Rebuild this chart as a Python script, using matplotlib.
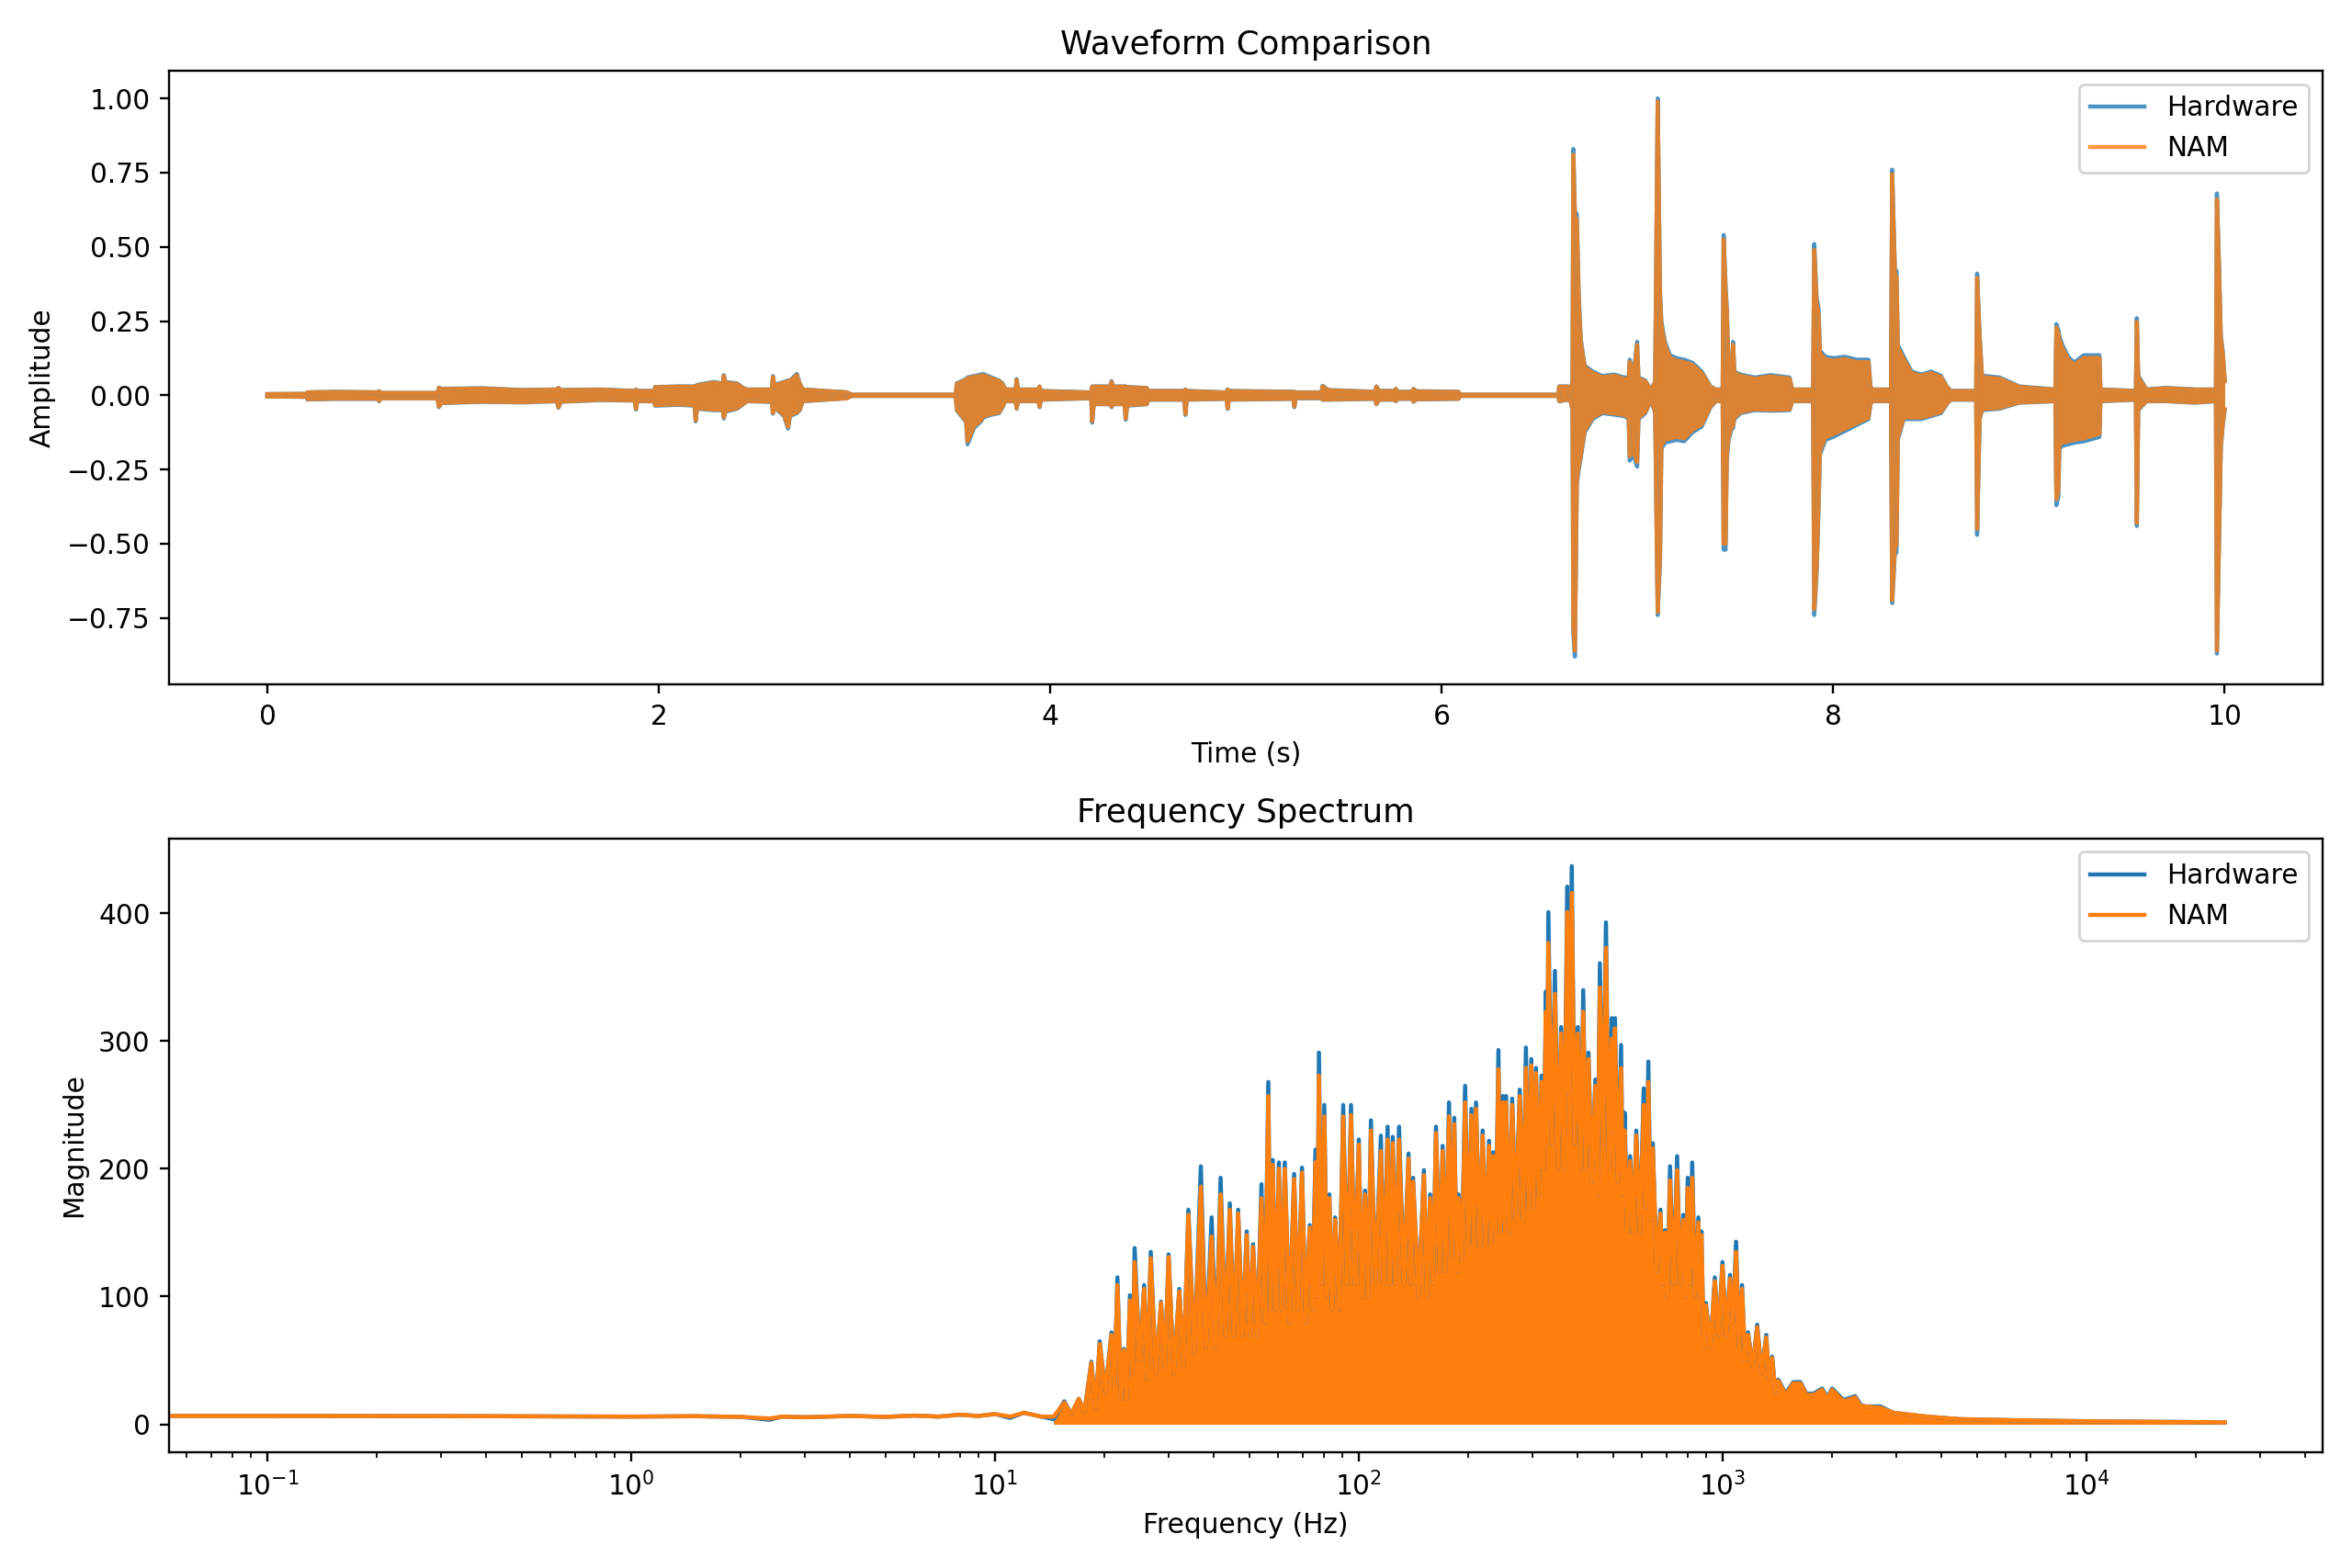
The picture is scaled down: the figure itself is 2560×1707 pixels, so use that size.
import numpy as np
import matplotlib.pyplot as plt
from matplotlib.colors import to_rgb
from matplotlib.lines import Line2D

# ---- waveform envelope, seconds / amplitude ----
wave_t = [0.000, 0.200, 0.205, 0.350, 0.565, 0.571, 0.580, 0.870, 0.876, 0.890,
          1.100, 1.300, 1.480, 1.487, 1.500, 1.700, 1.878, 1.883, 1.890, 1.975,
          1.981, 2.100, 2.183, 2.188, 2.195, 2.280, 2.327, 2.332, 2.340, 2.400,
          2.430, 2.450, 2.578, 2.583, 2.590, 2.640, 2.660, 2.670, 2.705, 2.720,
          2.735, 2.960, 2.985, 3.517, 3.522, 3.570, 3.577, 3.610, 3.648, 3.657,
          3.700, 3.738, 3.756, 3.770, 3.823, 3.828, 3.835, 3.940, 3.945, 3.952,
          4.100, 4.209, 4.214, 4.222, 4.308, 4.313, 4.320, 4.380, 4.385, 4.393,
          4.493, 4.500, 4.685, 4.690, 4.697, 4.900, 4.906, 4.912, 5.242, 5.247,
          5.253, 5.386, 5.391, 5.420, 5.660, 5.666, 5.680, 5.760, 5.765, 5.775,
          5.850, 5.855, 5.870, 6.085, 6.095, 6.595, 6.600, 6.645, 6.655, 6.668,
          6.672, 6.680, 6.690, 6.700, 6.710, 6.730, 6.771, 6.820, 6.880, 6.933,
          6.955, 6.960, 6.980, 6.998, 7.005, 7.040, 7.067, 7.090, 7.103, 7.115,
          7.122, 7.140, 7.166, 7.200, 7.238, 7.280, 7.328, 7.373, 7.400, 7.435,
          7.440, 7.450, 7.456, 7.465, 7.482, 7.488, 7.495, 7.526, 7.600, 7.680,
          7.777, 7.790, 7.897, 7.903, 7.915, 7.925, 7.932, 7.960, 8.000, 8.060,
          8.120, 8.180, 8.190, 8.200, 8.295, 8.301, 8.315, 8.323, 8.330, 8.360,
          8.400, 8.450, 8.500, 8.550, 8.580, 8.600, 8.730, 8.735, 8.748, 8.760,
          8.850, 8.950, 9.135, 9.140, 9.150, 9.155, 9.170, 9.200, 9.230, 9.280,
          9.360, 9.365, 9.546, 9.551, 9.558, 9.600, 9.700, 9.850, 9.955, 9.960,
          9.971, 9.980, 9.990, 10.000]
hw_upper = [0.004, 0.005, 0.010, 0.012, 0.010, 0.014, 0.008, 0.008, 0.026, 0.022,
            0.024, 0.018, 0.020, 0.025, 0.018, 0.020, 0.015, 0.020, 0.015, 0.015,
            0.028, 0.030, 0.030, 0.030, 0.035, 0.045, 0.040, 0.068, 0.045, 0.040,
            0.025, 0.020, 0.020, 0.065, 0.035, 0.045, 0.050, 0.050, 0.072, 0.040,
            0.020, 0.010, 0.002, 0.002, 0.040, 0.055, 0.060, 0.065, 0.070, 0.072,
            0.060, 0.050, 0.040, 0.020, 0.020, 0.055, 0.020, 0.020, 0.030, 0.015,
            0.012, 0.010, 0.030, 0.030, 0.030, 0.048, 0.030, 0.030, 0.030, 0.028,
            0.025, 0.015, 0.015, 0.020, 0.015, 0.010, 0.020, 0.015, 0.012, 0.012,
            0.010, 0.010, 0.032, 0.018, 0.012, 0.030, 0.015, 0.015, 0.022, 0.012,
            0.012, 0.022, 0.014, 0.012, 0.002, 0.002, 0.030, 0.030, 0.010, 0.050,
            0.830, 0.620, 0.610, 0.330, 0.190, 0.100, 0.080, 0.065, 0.070, 0.060,
            0.060, 0.120, 0.070, 0.180, 0.060, 0.050, 0.020, 0.045, 1.000, 0.350,
            0.250, 0.180, 0.135, 0.125, 0.120, 0.110, 0.080, 0.030, 0.020, 0.020,
            0.540, 0.370, 0.300, 0.100, 0.090, 0.180, 0.080, 0.070, 0.060, 0.068,
            0.060, 0.020, 0.020, 0.510, 0.330, 0.290, 0.150, 0.130, 0.125, 0.130,
            0.120, 0.120, 0.030, 0.020, 0.020, 0.760, 0.420, 0.420, 0.170, 0.130,
            0.080, 0.070, 0.080, 0.066, 0.030, 0.015, 0.015, 0.410, 0.200, 0.066,
            0.060, 0.030, 0.020, 0.240, 0.220, 0.200, 0.170, 0.130, 0.110, 0.135,
            0.135, 0.020, 0.015, 0.260, 0.066, 0.020, 0.025, 0.020, 0.020, 0.680,
            0.440, 0.200, 0.150, 0.050]
hw_lower = [-0.004, -0.005, -0.014, -0.012, -0.012, -0.020, -0.010, -0.010, -0.040, -0.026,
            -0.022, -0.024, -0.020, -0.042, -0.022, -0.016, -0.018, -0.048, -0.020, -0.020,
            -0.035, -0.032, -0.035, -0.088, -0.045, -0.050, -0.050, -0.078, -0.055, -0.045,
            -0.030, -0.020, -0.022, -0.062, -0.040, -0.070, -0.112, -0.070, -0.060, -0.050,
            -0.020, -0.010, -0.002, -0.002, -0.050, -0.090, -0.165, -0.110, -0.086, -0.075,
            -0.065, -0.060, -0.040, -0.020, -0.020, -0.045, -0.020, -0.020, -0.040, -0.015,
            -0.012, -0.010, -0.092, -0.030, -0.030, -0.040, -0.030, -0.030, -0.082, -0.035,
            -0.030, -0.015, -0.015, -0.066, -0.015, -0.012, -0.046, -0.015, -0.012, -0.040,
            -0.010, -0.010, -0.015, -0.015, -0.012, -0.030, -0.015, -0.015, -0.020, -0.012,
            -0.012, -0.022, -0.014, -0.012, -0.002, -0.002, -0.020, -0.015, -0.010, -0.050,
            -0.800, -0.880, -0.300, -0.250, -0.210, -0.125, -0.080, -0.060, -0.065, -0.070,
            -0.080, -0.220, -0.200, -0.240, -0.080, -0.060, -0.020, -0.055, -0.740, -0.560,
            -0.180, -0.160, -0.155, -0.150, -0.155, -0.125, -0.105, -0.040, -0.020, -0.020,
            -0.520, -0.520, -0.220, -0.150, -0.110, -0.110, -0.080, -0.060, -0.050, -0.052,
            -0.050, -0.020, -0.020, -0.740, -0.600, -0.380, -0.200, -0.150, -0.140, -0.120,
            -0.100, -0.080, -0.030, -0.020, -0.020, -0.700, -0.530, -0.530, -0.150, -0.080,
            -0.080, -0.080, -0.070, -0.060, -0.030, -0.015, -0.015, -0.470, -0.080, -0.050,
            -0.045, -0.025, -0.020, -0.370, -0.340, -0.180, -0.170, -0.165, -0.160, -0.155,
            -0.140, -0.020, -0.015, -0.440, -0.050, -0.020, -0.020, -0.025, -0.020, -0.870,
            -0.500, -0.180, -0.100, -0.050]
nam_upper = [0.004, 0.005, 0.010, 0.011, 0.010, 0.013, 0.008, 0.008, 0.025, 0.021,
             0.023, 0.017, 0.019, 0.024, 0.017, 0.019, 0.014, 0.019, 0.014, 0.014,
             0.027, 0.029, 0.029, 0.029, 0.033, 0.043, 0.038, 0.065, 0.043, 0.038,
             0.024, 0.019, 0.019, 0.062, 0.033, 0.043, 0.048, 0.048, 0.068, 0.038,
             0.019, 0.010, 0.002, 0.002, 0.038, 0.052, 0.057, 0.062, 0.066, 0.068,
             0.057, 0.048, 0.038, 0.019, 0.019, 0.052, 0.019, 0.019, 0.029, 0.014,
             0.011, 0.009, 0.029, 0.029, 0.029, 0.046, 0.029, 0.029, 0.029, 0.027,
             0.024, 0.014, 0.014, 0.019, 0.014, 0.009, 0.019, 0.014, 0.011, 0.011,
             0.009, 0.009, 0.030, 0.017, 0.011, 0.029, 0.014, 0.014, 0.021, 0.011,
             0.011, 0.021, 0.013, 0.011, 0.002, 0.002, 0.029, 0.029, 0.010, 0.048,
             0.810, 0.600, 0.590, 0.315, 0.180, 0.095, 0.075, 0.061, 0.066, 0.056,
             0.056, 0.113, 0.066, 0.170, 0.056, 0.047, 0.019, 0.043, 0.990, 0.330,
             0.235, 0.170, 0.126, 0.117, 0.112, 0.103, 0.075, 0.028, 0.019, 0.019,
             0.525, 0.350, 0.285, 0.094, 0.085, 0.170, 0.075, 0.066, 0.056, 0.064,
             0.056, 0.019, 0.019, 0.490, 0.310, 0.275, 0.141, 0.122, 0.117, 0.122,
             0.112, 0.112, 0.028, 0.019, 0.019, 0.745, 0.400, 0.400, 0.160, 0.122,
             0.075, 0.066, 0.075, 0.062, 0.028, 0.014, 0.014, 0.395, 0.190, 0.062,
             0.056, 0.028, 0.019, 0.228, 0.208, 0.188, 0.160, 0.122, 0.103, 0.126,
             0.126, 0.019, 0.014, 0.248, 0.062, 0.019, 0.024, 0.019, 0.019, 0.660,
             0.420, 0.190, 0.140, 0.047]
nam_lower = [-0.004, -0.005, -0.013, -0.011, -0.011, -0.019, -0.010, -0.010, -0.038, -0.025,
             -0.021, -0.023, -0.019, -0.040, -0.021, -0.015, -0.017, -0.045, -0.019, -0.019,
             -0.033, -0.030, -0.033, -0.084, -0.043, -0.048, -0.048, -0.074, -0.052, -0.043,
             -0.029, -0.019, -0.021, -0.059, -0.038, -0.067, -0.106, -0.067, -0.057, -0.048,
             -0.019, -0.010, -0.002, -0.002, -0.048, -0.086, -0.155, -0.104, -0.082, -0.071,
             -0.062, -0.057, -0.038, -0.019, -0.019, -0.043, -0.019, -0.019, -0.038, -0.014,
             -0.011, -0.009, -0.087, -0.029, -0.029, -0.038, -0.029, -0.029, -0.078, -0.033,
             -0.029, -0.014, -0.014, -0.063, -0.014, -0.011, -0.044, -0.014, -0.011, -0.038,
             -0.009, -0.009, -0.014, -0.014, -0.011, -0.029, -0.014, -0.014, -0.019, -0.011,
             -0.011, -0.021, -0.013, -0.011, -0.002, -0.002, -0.019, -0.014, -0.010, -0.048,
             -0.780, -0.860, -0.285, -0.238, -0.200, -0.118, -0.075, -0.056, -0.061, -0.066,
             -0.075, -0.205, -0.188, -0.225, -0.075, -0.056, -0.019, -0.052, -0.730, -0.535,
             -0.168, -0.150, -0.145, -0.140, -0.145, -0.117, -0.098, -0.037, -0.019, -0.019,
             -0.500, -0.500, -0.205, -0.140, -0.103, -0.103, -0.075, -0.056, -0.047, -0.049,
             -0.047, -0.019, -0.019, -0.720, -0.580, -0.360, -0.188, -0.141, -0.131, -0.112,
             -0.094, -0.075, -0.028, -0.019, -0.019, -0.690, -0.505, -0.505, -0.140, -0.075,
             -0.075, -0.075, -0.066, -0.056, -0.028, -0.014, -0.014, -0.450, -0.075, -0.047,
             -0.042, -0.024, -0.019, -0.350, -0.320, -0.168, -0.160, -0.155, -0.150, -0.145,
             -0.130, -0.019, -0.014, -0.430, -0.047, -0.019, -0.019, -0.024, -0.019, -0.860,
             -0.480, -0.168, -0.094, -0.047]

# ---- spectrum, Hz / magnitude ----
# quiet low-frequency part: a single thin trace
low_freq = [0.05, 0.1, 0.3, 0.6, 1.0, 1.5, 2.0, 2.4, 2.6, 3.0, 4.0, 5.0, 6.0, 7.0, 8.0, 9.0, 10.0, 11.0, 12.0, 13.4]
low_hw = [6.5, 6.5, 6.4, 6.2, 6.0, 6.3, 5.8, 3.5, 6.0, 5.5, 6.5, 5.8, 6.8, 6.0, 7.5, 6.5, 8.0, 5.0, 9.0, 6.0]
low_nam = [6.5, 6.5, 6.4, 6.2, 6.0, 6.3, 5.8, 4.5, 6.0, 5.5, 6.5, 5.8, 6.8, 6.0, 7.5, 6.5, 8.0, 6.0, 9.0, 6.0]

# dense part: alternating peaks and dips
band_freq = [14.5, 15.5, 16.2, 17.0, 17.6, 18.4, 18.9, 19.4, 20.1, 20.9, 21.3, 21.7, 22.2, 22.6, 23.0,
             23.5, 23.9, 24.2, 25.0, 25.7, 26.2, 26.8, 27.7, 28.6, 29.3, 30.0, 31.0, 32.1, 33.0, 34.0,
             35.3, 36.8, 38.0, 39.4, 40.5, 41.7, 43.0, 44.2, 45.4, 46.6, 47.9, 49.2, 50.2, 51.2, 52.6,
             54.0, 55.2, 56.4, 57.2, 58.0, 59.1, 60.3, 61.4, 62.6, 64.5, 66.4, 68.0, 69.8, 71.5, 73.3,
             74.6, 76.0, 76.8, 77.7, 79.0, 80.4, 81.7, 83.0, 84.5, 86.1, 88.3, 90.6, 92.9, 95.2, 97.5,
             100, 102, 104, 106, 108, 111, 115, 117, 120, 122, 124, 126, 129, 133, 137,
             139, 141, 146, 151, 154, 157, 160, 163, 167, 170, 173, 177, 180, 183, 186,
             188, 192, 196, 200, 204, 207, 210, 215, 219, 223, 228, 231, 234, 238, 242,
             245, 249, 251, 254, 259, 264, 270, 277, 283, 288, 293, 298, 302, 307, 312,
             318, 322, 327, 329, 332, 339, 346, 353, 360, 367, 374, 379, 385, 392, 400,
             407, 414, 421, 428, 437, 447, 453, 460, 469, 478, 487, 496, 501, 506, 516,
             526, 532, 538, 547, 557, 568, 579, 593, 607, 616, 625, 634, 643, 659, 675,
             684, 694, 705, 717, 733, 750, 765, 780, 791, 802, 813, 825, 841, 858, 866,
             875, 887, 900, 926, 952, 975, 999, 1023, 1048, 1068, 1089, 1110, 1131, 1153, 1175,
             1210, 1245, 1281, 1318, 1343, 1369, 1396, 1423, 1490, 1564, 1636, 1700, 1780, 1877, 1940,
             2000, 2150, 2313, 2400, 2464, 2710, 2950, 3640, 4490, 6830, 10400, 24000]
band_hw = [4, 18, 8, 20, 9, 49, 12, 65, 25, 72, 30, 115, 20, 59, 20,
           101, 40, 138, 50, 109, 35, 135, 40, 96, 45, 133, 40, 106, 45, 168,
           55, 202, 60, 162, 60, 193, 70, 173, 70, 168, 70, 151, 70, 141, 70,
           188, 80, 268, 90, 207, 90, 205, 90, 205, 80, 196, 90, 201, 80, 156,
           90, 215, 100, 291, 110, 250, 100, 180, 90, 162, 90, 250, 110, 250, 110,
           223, 100, 183, 100, 238, 110, 226, 110, 233, 110, 225, 110, 233, 110, 212,
           110, 193, 100, 199, 100, 180, 110, 233, 120, 218, 120, 252, 130, 240, 120,
           180, 130, 265, 140, 247, 140, 252, 140, 230, 140, 222, 140, 213, 150, 293,
           150, 257, 160, 257, 150, 255, 160, 262, 160, 295, 170, 286, 170, 279, 180,
           273, 200, 339, 220, 401, 220, 355, 200, 311, 200, 421, 260, 437, 220, 311,
           200, 340, 200, 291, 190, 270, 180, 361, 220, 393, 200, 318, 230, 318, 190,
           297, 180, 244, 150, 210, 150, 230, 150, 263, 170, 284, 160, 220, 120, 168,
           110, 152, 100, 202, 110, 210, 110, 164, 100, 193, 110, 205, 100, 162, 100,
           151, 60, 95, 60, 115, 70, 127, 70, 117, 80, 143, 60, 109, 50, 72,
           45, 78, 40, 70, 35, 53, 25, 35, 24, 33, 33, 24, 24, 28, 21,
           28, 19, 22, 15, 14, 14, 9, 6, 4, 3, 2.3, 1.5]
band_nam = [6, 17, 8, 20, 9, 48, 12, 63, 25, 70, 30, 109, 20, 58, 20,
            97, 40, 127, 50, 106, 35, 130, 40, 95, 45, 131, 40, 104, 45, 164,
            55, 186, 60, 147, 60, 180, 70, 168, 70, 165, 70, 148, 70, 139, 70,
            177, 80, 257, 90, 203, 90, 200, 90, 200, 80, 192, 90, 197, 80, 154,
            90, 205, 100, 273, 110, 241, 100, 177, 90, 160, 90, 241, 110, 242, 110,
            219, 100, 180, 100, 230, 110, 214, 110, 223, 110, 220, 110, 223, 110, 208,
            110, 190, 100, 195, 100, 177, 110, 228, 120, 214, 120, 241, 130, 235, 120,
            177, 130, 252, 140, 242, 140, 247, 140, 226, 140, 218, 140, 210, 150, 278,
            150, 252, 160, 252, 150, 250, 160, 257, 160, 279, 170, 281, 170, 275, 180,
            268, 200, 323, 220, 377, 220, 337, 200, 306, 200, 401, 260, 416, 220, 306,
            200, 323, 200, 286, 190, 265, 180, 342, 220, 373, 200, 302, 230, 310, 190,
            279, 180, 230, 150, 206, 150, 226, 150, 250, 170, 268, 160, 216, 120, 165,
            110, 150, 100, 191, 110, 199, 110, 160, 100, 185, 110, 193, 100, 158, 100,
            148, 60, 93, 60, 112, 70, 124, 70, 114, 80, 135, 60, 106, 50, 70,
            45, 76, 40, 68, 35, 52, 25, 34, 23, 32, 32, 23, 23, 27, 20,
            27, 18, 21, 14, 14, 13, 9, 6, 4, 3, 2.3, 1.5]

assert len(wave_t) == len(hw_upper) == len(hw_lower) == len(nam_upper) == len(nam_lower)
assert len(band_freq) == len(band_hw) == len(band_nam)

# the waveform traces were drawn at alpha 0.8; use the resulting flat colours
hw_soft = 0.8 * np.array(to_rgb('C0')) + 0.2
nam_soft = 0.8 * np.array(to_rgb('C1')) + 0.2 * hw_soft

dpi = 2560 / 12
fig, (ax1, ax2) = plt.subplots(2, 1, figsize=(12, 1707 / dpi), dpi=dpi)

# waveform
ax1.fill_between(wave_t, hw_lower, hw_upper, color=hw_soft, lw=0)
ax1.plot(wave_t, hw_upper, color=hw_soft, lw=1.5)
ax1.plot(wave_t, hw_lower, color=hw_soft, lw=1.5)
ax1.fill_between(wave_t, nam_lower, nam_upper, color=nam_soft, lw=0)
ax1.plot(wave_t, nam_upper, color=nam_soft, lw=1.5)
ax1.plot(wave_t, nam_lower, color=nam_soft, lw=1.5)
ax1.set_title('Waveform Comparison')
ax1.set_xlabel('Time (s)')
ax1.set_ylabel('Amplitude')
ax1.legend(handles=[Line2D([], [], color='C0', alpha=0.8, lw=1.5, label='Hardware'),
                    Line2D([], [], color='C1', alpha=0.8, lw=1.5, label='NAM')],
           loc='upper right')

# spectrum
ax2.plot(low_freq + band_freq, low_hw + band_hw, color='C0', lw=1.5, label='Hardware')
ax2.fill_between(band_freq, 0, band_hw, color='C0', lw=0)
ax2.plot(low_freq + band_freq, low_nam + band_nam, color='C1', lw=1.5, label='NAM')
ax2.fill_between(band_freq, 0, band_nam, color='C1', lw=0)
ax2.set_xscale('log')
ax2.set_xlim(0.0538, 44600)
ax2.set_title('Frequency Spectrum')
ax2.set_xlabel('Frequency (Hz)')
ax2.set_ylabel('Magnitude')
ax2.legend(loc='upper right')

plt.tight_layout()
plt.savefig('out.png', dpi=dpi)
